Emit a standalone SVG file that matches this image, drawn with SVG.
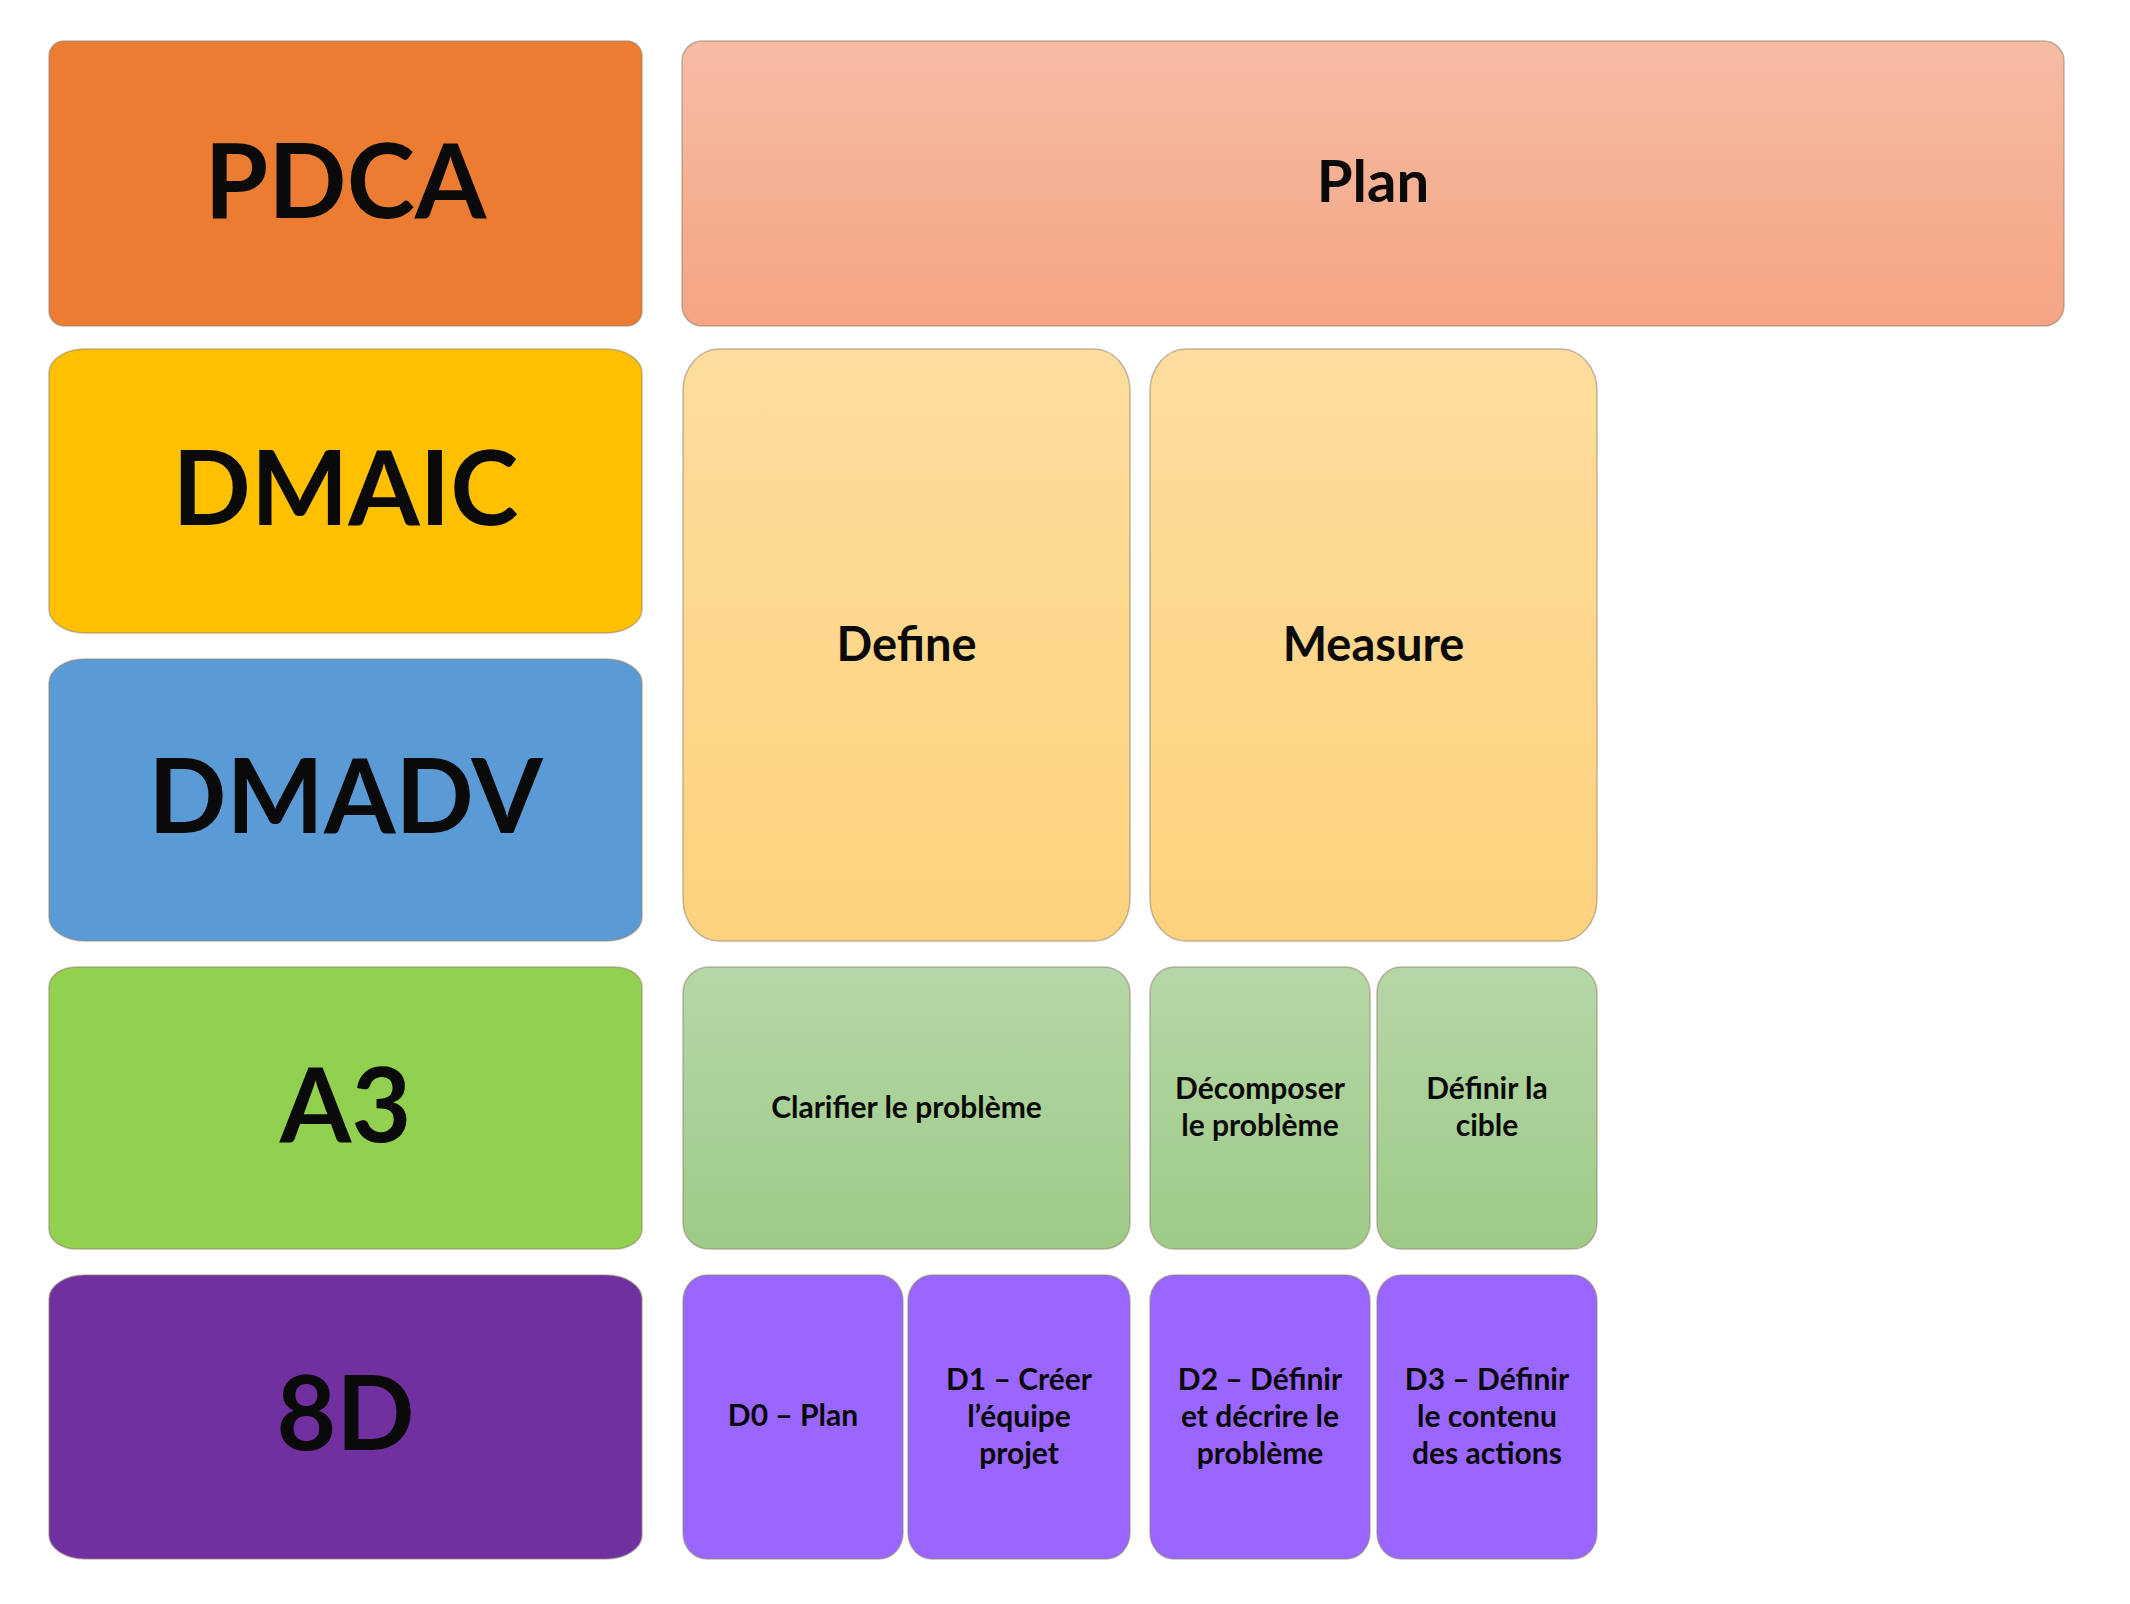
<svg xmlns="http://www.w3.org/2000/svg" width="2130" height="1604" viewBox="0 0 2130 1604">
<defs>
<linearGradient id="gPlan" x1="0" y1="0" x2="0" y2="1"><stop offset="0" stop-color="#F6BCA3"/><stop offset="1" stop-color="#F5A483"/></linearGradient>
<linearGradient id="gYel" x1="0" y1="0" x2="0" y2="1"><stop offset="0" stop-color="#FDDC9D"/><stop offset="1" stop-color="#FDD27C"/></linearGradient>
<linearGradient id="gGrn" x1="0" y1="0" x2="0" y2="1"><stop offset="0" stop-color="#B5D7A7"/><stop offset="1" stop-color="#9ECA87"/></linearGradient>
</defs>
<style>
rect{stroke:#8f8170;stroke-opacity:0.55;stroke-width:1.5}
text{font-family:"Lato","Carlito","Liberation Sans",sans-serif;font-weight:bold;fill:#0a0a0a;text-anchor:middle}
.big{font-size:103px}
.mid{font-size:58px}
.med{font-size:47px}
.sm{font-size:30px}
</style>
<rect width="2130" height="1604" fill="#ffffff" style="stroke:none"/>
<g id="connectors"/>
<g id="pdca"><rect x="49" y="41" width="593" height="285" rx="15" ry="15" fill="#EB7C31"/><text class="big" x="345.5" y="218">PDCA</text></g>
<g id="plan"><rect x="682" y="41" width="1382" height="285" rx="20" ry="20" fill="url(#gPlan)"/><text class="mid" x="1373" y="202">Plan</text></g>
<g id="dmaic"><rect x="49" y="349" width="593" height="284" rx="36" ry="24" fill="#FFC000"/><text class="big" x="345.5" y="525">DMAIC</text></g>
<g id="dmadv"><rect x="49" y="659" width="593" height="282" rx="36" ry="24" fill="#5B9BD5"/><text class="big" x="345.5" y="833">DMADV</text></g>
<g id="a3"><rect x="49" y="967" width="593" height="282" rx="27" ry="20" fill="#92D050"/><text class="big" x="345.5" y="1142">A3</text></g>
<g id="d8"><rect x="49" y="1275" width="593" height="284" rx="36" ry="24" fill="#7030A0"/><text class="big" x="345.5" y="1450">8D</text></g>
<g id="define"><rect x="683" y="349" width="447" height="592" rx="36" ry="42" fill="url(#gYel)"/><text class="med" x="906.5" y="661">Define</text></g>
<g id="measure"><rect x="1150" y="349" width="447" height="592" rx="36" ry="42" fill="url(#gYel)"/><text class="med" x="1373.5" y="661">Measure</text></g>
<g id="clarifier"><rect x="683" y="967" width="447" height="282" rx="26" ry="26" fill="url(#gGrn)"/><text class="sm" x="906.5" y="1118">Clarifier le problème</text></g>
<g id="decomposer"><rect x="1150" y="967" width="220" height="282" rx="24" ry="26" fill="url(#gGrn)"/><text class="sm" x="1260" y="1099">Décomposer</text><text class="sm" x="1260" y="1136">le problème</text></g>
<g id="cible"><rect x="1377" y="967" width="220" height="282" rx="24" ry="26" fill="url(#gGrn)"/><text class="sm" x="1487" y="1099">Définir la</text><text class="sm" x="1487" y="1136">cible</text></g>
<g id="d0"><rect x="683" y="1275" width="220" height="284" rx="24" ry="26" fill="#9966FF"/><text class="sm" x="793" y="1426">D0 – Plan</text></g>
<g id="d1"><rect x="908" y="1275" width="222" height="284" rx="24" ry="26" fill="#9966FF"/><text class="sm" x="1019" y="1390">D1 – Créer</text><text class="sm" x="1019" y="1427">l’équipe</text><text class="sm" x="1019" y="1464">projet</text></g>
<g id="d2"><rect x="1150" y="1275" width="220" height="284" rx="24" ry="26" fill="#9966FF"/><text class="sm" x="1260" y="1390">D2 – Définir</text><text class="sm" x="1260" y="1427">et décrire le</text><text class="sm" x="1260" y="1464">problème</text></g>
<g id="d3"><rect x="1377" y="1275" width="220" height="284" rx="24" ry="26" fill="#9966FF"/><text class="sm" x="1487" y="1390">D3 – Définir</text><text class="sm" x="1487" y="1427">le contenu</text><text class="sm" x="1487" y="1464">des actions</text></g>
</svg>
